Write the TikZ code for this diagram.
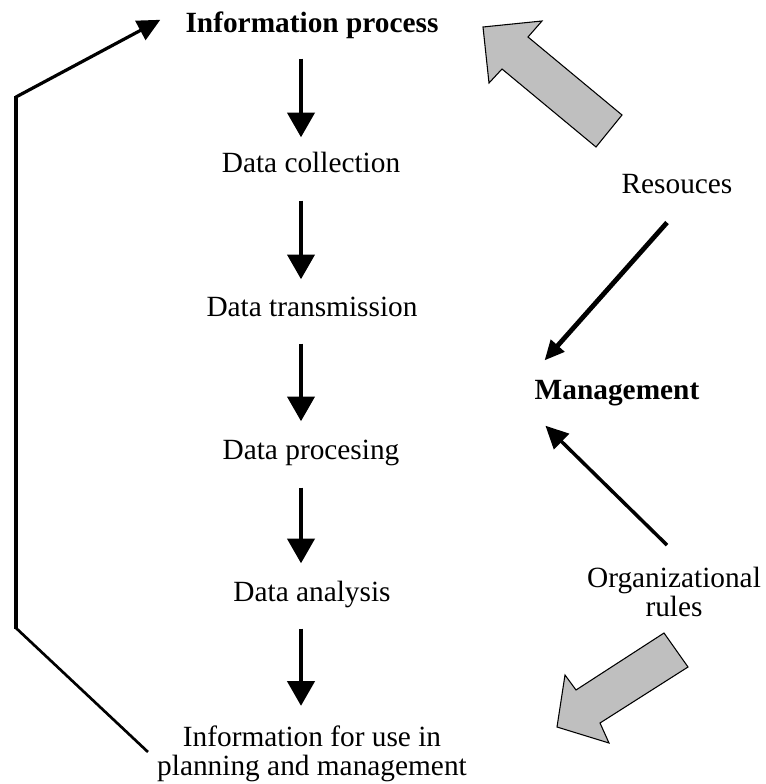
\documentclass[tikz,border=0pt]{standalone}
\usepackage{fontspec}
\setmainfont{Liberation Serif}
\usetikzlibrary{arrows.meta,calc}
\begin{document}
\begin{tikzpicture}[x=0.75pt,y=-0.75pt,
  lbl/.style={font=\fontsize{22}{21.5}\selectfont, inner sep=0pt, align=center},
  hdr/.style={lbl, font=\fontsize{22}{21.5}\selectfont\bfseries},
  flow/.style={line width=3.6pt, -{Triangle[length=18.5pt,width=20pt]}},
  feed/.style={line width=3.6pt, -{Triangle[length=15pt,width=13pt]}},
  thinfeed/.style={line width=3.2pt, -{Triangle[length=17pt,width=16pt]}},
  loopline/.style={line width=2pt},
  bigarrow/.style={fill=gray!50, draw=black, line width=0.8pt, line join=miter}
]
\useasboundingbox (0,0) rectangle (765,784);

% process column
\node[hdr, anchor=base] (ip) at (312,33) {Information process};
\node[lbl, anchor=base] (dc) at (311,173) {Data collection};
\node[lbl, anchor=base] (dt) at (312,316) {Data transmission};
\node[lbl, anchor=base] (dp) at (311,459) {Data procesing};
\node[lbl, anchor=base] (da) at (312,601) {Data analysis};
\node[lbl] (info) at (312,754) {Information for use in\\planning and management};

% right-hand inputs
\node[lbl, anchor=base] (res) at (677,194) {Resouces};
\node[hdr, anchor=base] (mg) at (617,399) {Management};
\node[lbl] (org) at (674,592) {Organizational\\rules};

% vertical axis of the process arrows
\coordinate (axis) at (301,0);
\draw[flow] (ip.south -| axis) ++(0,19) -- ($(dc.north -| axis)+(0,-15)$);
\draw[flow] (dc.south -| axis) ++(0,27) -- ($(dt.north -| axis)+(0,-17)$);
\draw[flow] (dt.south -| axis) ++(0,27) -- ($(dp.north -| axis)+(0,-18)$);
\draw[flow] (dp.south -| axis) ++(0,22) -- ($(da.north -| axis)+(0,-17)$);
\draw[flow] (da.south -| axis) ++(0,21) -- ($(info.north -| axis)+(0,-20)$);

% inputs to management
\draw[feed] ($(res.south)+(-10,28)$) -- ($(mg.north west)+(10,-19)$);
\draw[thinfeed, line width=2.6pt] ($(org.north)+(-7,-22)$) -- ($(mg.south west)+(11,20)$);

% feedback loop back to the information process
\coordinate (fbB) at (16,628);
\coordinate (fbC) at (16,97);
\draw[loopline] ($(info.west)+(-9,-2)$) -- (fbB);
\draw[line width=3.6pt] ($(fbB)+(0,1)$) -- ($(fbC)+(0,-1)$);
\draw[loopline, line width=2.4pt, -{Triangle[length=17pt,width=16pt]}] (fbC) -- ($(ip.west)+(-25,-6)$);

% broad grey arrows
\draw[bigarrow] (483,27) -- (542,21) -- (528,37) -- (622,115) -- (596,147)
  -- (502,69) -- (489,83) -- cycle;
\draw[bigarrow] (664,633) -- (688,667) -- (600,723) -- (609,743) -- (557,727)
  -- (565,675) -- (576,690) -- cycle;
\end{tikzpicture}
\end{document}
